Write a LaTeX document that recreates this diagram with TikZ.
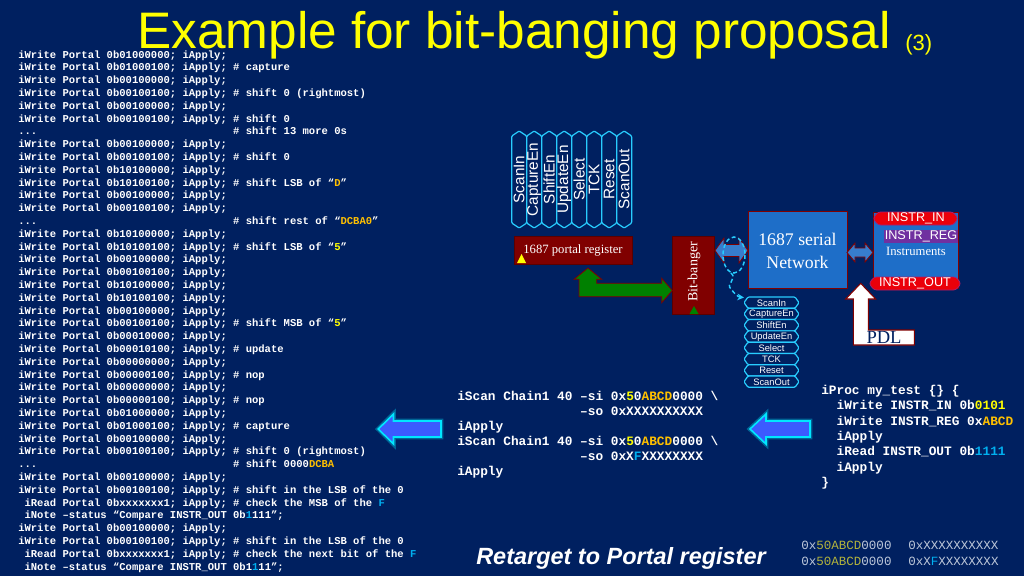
\documentclass[tikz,border=0pt]{standalone}
\usepackage{fontspec}
\setmainfont{Liberation Serif}
\newfontfamily\arial{Liberation Sans}
\newfontfamily\cour{Liberation Mono}
\usetikzlibrary{arrows.meta}
\definecolor{bg}{HTML}{002060}
\definecolor{maroon}{RGB}{128,0,0}
\definecolor{netblue}{RGB}{30,110,200}
\definecolor{dablue}{RGB}{55,125,205}
\definecolor{bred}{RGB}{235,0,10}
\definecolor{bredd}{RGB}{170,30,110}
\definecolor{purp}{RGB}{112,48,160}
\definecolor{sigc}{RGB}{40,205,255}
\definecolor{arrblue}{RGB}{60,90,255}
\definecolor{arrcyan}{RGB}{0,230,255}
\definecolor{grn}{RGB}{0,128,0}
\definecolor{ttl}{RGB}{255,255,0}
\definecolor{ylc}{RGB}{255,255,0}
\definecolor{gdc}{RGB}{255,192,0}
\definecolor{cyc}{RGB}{0,176,240}
\definecolor{smallc}{RGB}{190,200,218}
\definecolor{smyl}{RGB}{180,180,60}
\newcommand\chsp[1]{\hspace*{\dimexpr 0.6em*#1\relax}}
\newcommand\cYl[1]{\textcolor{ylc}{#1}}
\newcommand\cGd[1]{\textcolor{gdc}{#1}}
\newcommand\cCy[1]{\textcolor{cyc}{#1}}
\newcommand\wPort[1]{iWrite Portal 0b#1; iApply;}
\newcommand\tdots{.{}.{}.}
\begin{document}
\begin{tikzpicture}[x=0.75pt,y=-0.75pt,
  lcode/.style={text=white, inner sep=0, anchor=base west, font=\cour\bfseries\fontsize{7.9}{9}\selectfont},
  mcode/.style={text=white, inner sep=0, anchor=base west, font=\cour\bfseries\fontsize{9.6}{11}\selectfont},
  scode/.style={text=smallc, inner sep=0, anchor=base west, font=\cour\fontsize{9.4}{11}\selectfont},
  sig/.style={draw=sigc, line width=0.9pt, fill=bg, rounded corners=0.8pt},
  vlab/.style={text=white, inner sep=0, font=\arial\fontsize{11.5}{12}\selectfont, rotate=90},
  hlab/.style={text=white, inner sep=0, font=\arial\fontsize{7}{8}\selectfont},
  mbox/.style={fill=maroon, draw=maroon!70!black, line width=0.5pt},
  bbox/.style={fill=netblue, draw=maroon, line width=0.6pt},
  banner/.style={fill=bred, draw=bredd, line width=0.6pt, rounded corners=2pt},
  btxt/.style={text=white, inner sep=0, font=\arial\fontsize{9.5}{10}\selectfont},
  sertxt/.style={text=white, inner sep=0},
  darr/.style={fill=dablue, draw=maroon, line width=0.6pt},
  barr/.style={fill=arrblue, draw=arrcyan, line width=1.2pt},
  glow/.style={draw=arrcyan, line width=3.5pt, opacity=0.35},
  loop/.style={draw=sigc, line width=1.1pt, dash pattern=on 3pt off 2pt}]
\useasboundingbox (0,0) rectangle (1024,576);
\fill[bg] (0,0) rectangle (1024,576);

% title
\node[inner sep=0, anchor=base west, text=ttl, font=\arial\fontsize{38.5}{40}\selectfont] (title) at (137,48) {Example for bit-banging proposal};
\node[inner sep=0, anchor=base west, text=ttl, font=\arial\fontsize{16.5}{18}\selectfont] (title3) at (905,50.4) {(3)};

% left code
\foreach \t [count=\i] in {
 {\wPort{01000000}},
 {\wPort{01000100} \# capture},
 {\wPort{00100000}},
 {\wPort{00100100} \# shift 0 (rightmost)},
 {\wPort{00100000}},
 {\wPort{00100100} \# shift 0},
 {\tdots\chsp{31}\# shift 13 more 0s},
 {\wPort{00100000}},
 {\wPort{00100100} \# shift 0},
 {\wPort{10100000}},
 {\wPort{10100100} \# shift LSB of “\cGd{D}”},
 {\wPort{00100000}},
 {\wPort{00100100}},
 {\tdots\chsp{31}\# shift rest of “\cGd{DCBA0}”},
 {\wPort{10100000}},
 {\wPort{10100100} \# shift LSB of “\cYl{5}”},
 {\wPort{00100000}},
 {\wPort{00100100}},
 {\wPort{10100000}},
 {\wPort{10100100}},
 {\wPort{00100000}},
 {\wPort{00100100} \# shift MSB of “\cYl{5}”},
 {\wPort{00010000}},
 {\wPort{00010100} \# update},
 {\wPort{00000000}},
 {\wPort{00000100} \# nop},
 {\wPort{00000000}},
 {\wPort{00000100} \# nop},
 {\wPort{01000000}},
 {\wPort{01000100} \# capture},
 {\wPort{00100000}},
 {\wPort{00100100} \# shift 0 (rightmost)},
 {\tdots\chsp{31}\# shift 0000\cGd{DCBA}},
 {\wPort{00100000}},
 {\wPort{00100100} \# shift in the LSB of the 0},
 {\chsp{1}iRead Portal 0bxxxxxxx1; iApply; \# check the MSB of the \cCy{F}},
 {\chsp{1}iNote –status “Compare INSTR\_OUT 0b\cCy{1}111”;},
 {\wPort{00100000}},
 {\wPort{00100100} \# shift in the LSB of the 0},
 {\chsp{1}iRead Portal 0bxxxxxxx1; iApply; \# check the next bit of the \cCy{F}},
 {\chsp{1}iNote –status “Compare INSTR\_OUT 0b1\cCy{1}11”;}
}{\node[lcode] (L\i) at (18,{58+(\i-1)*12.8}) {\t};}

% vertical signal hexagons
\foreach \s [count=\i from 0] in {ScanIn,CaptureEn,ShiftEn,UpdateEn,Select,TCK,Reset,ScanOut}{
  \pgfmathsetmacro\xa{511.7+15*\i}
  \draw[sig] (\xa,136) -- ++(7.5,-5) -- ++(7.5,5) -- ++(0,87) -- ++(-7.5,5) -- ++(-7.5,-5) -- cycle;
  \node[vlab] (v\i) at (\xa+7.5,179.5) {\s};
}

% portal register
\draw[mbox] (514,236) rectangle (632,264);
\node[sertxt, font=\fontsize{9.5}{10}\selectfont] (portal) at (573,250) {1687 portal register};
\fill[ylc] (517,263) -- (526,263) -- (521.5,254) -- cycle;

% bit-banger
\draw[mbox] (672,236) rectangle (714,314);
\node[sertxt, rotate=90, font=\fontsize{10.5}{11}\selectfont] (bb) at (694,272) {Bit-banger};
\fill[grn] (689.5,314) -- (698.5,314) -- (694,306) -- cycle;

% green arrow
\draw[fill=grn, draw=maroon, line width=0.6pt] (588,268) -- (601.7,279.3) -- (596.7,279.3) -- (596.7,283.3) -- (661.7,283.3) -- (661.7,278.3) -- (672.3,290.5) -- (661.7,302.7) -- (661.7,296.7) -- (579,296.7) -- (579,279.3) -- (574,279.3) -- cycle;

% network
\draw[bbox] (748,211) rectangle (847,288);
\node[sertxt, align=center, font=\fontsize{13.3}{17.2}\selectfont] (net) at (797.5,251) {1687 serial\\Network};

% instruments
\draw[bbox] (873,212) rectangle (958,288);
\draw[banner] (873,218.5) -- (878,212) -- (953,212) -- (958,218.5) -- (953,225) -- (878,225) -- cycle;
\node[btxt] (iin) at (916,218.5) {INSTR\_IN};
\fill[purp] (884,230) rectangle (958,243);
\node[btxt] (ireg) at (921,236.5) {INSTR\_REG};
\node[sertxt, font=\fontsize{9.5}{10}\selectfont] (inst) at (916,251) {Instruments};
\draw[banner] (869,283.5) -- (874,277) -- (956,277) -- (961,283.5) -- (956,290) -- (874,290) -- cycle;
\node[btxt] (iout) at (915,283.5) {INSTR\_OUT};

% double arrows
\draw[darr] (715,250.5) -- (724,238) -- (724,244.5) -- (739,244.5) -- (739,238) -- (748,250.5) -- (739,263) -- (739,256.5) -- (724,256.5) -- (724,263) -- cycle;
\draw[darr] (847,252.5) -- (855,243) -- (855,248) -- (865,248) -- (865,243) -- (873,252.5) -- (865,262) -- (865,257) -- (855,257) -- (855,262) -- cycle;

% dashed loop
\draw[loop] (734,255) ellipse [x radius=11, y radius=18];
\draw[loop, -{Stealth[length=5pt,width=5pt]}] (731,273) .. controls (738,279) and (725,284) .. (731,289) .. controls (734,293) and (738,297) .. (744,297.5);

% horizontal signal list
\foreach \s [count=\i from 0] in {ScanIn,CaptureEn,ShiftEn,UpdateEn,Select,TCK,Reset,ScanOut}{
  \pgfmathsetmacro\ya{297+11.29*\i}
  \draw[sig] (744,\ya+5.645) -- (748,\ya) -- (795,\ya) -- (799,\ya+5.645) -- (795,\ya+11.29) -- (748,\ya+11.29) -- cycle;
  \node[hlab] (h\i) at (771.5,\ya+5.8) {\s};
}

% PDL arrow
\draw[fill=white, draw=maroon, line width=0.8pt] (860.7,283.3) -- (875.7,299) -- (868.3,299) -- (868.3,330) -- (914.3,330) -- (914.3,345) -- (853.3,345) -- (853.3,299) -- (845.7,299) -- cycle;
\node[inner sep=0, text=bg, font=\fontsize{13.9}{14}\selectfont] (pdl) at (884,337.5) {PDL};

% blue arrows
\foreach \tx/\hb/\ex [count=\i] in {378.3/393.5/441, 750/766/810}{
  \draw[glow] (\tx,429) -- (\hb,414) -- (\hb,421) -- (\ex,421) -- (\ex,437) -- (\hb,437) -- (\hb,444) -- cycle;
  \draw[barr] (\tx,429) -- (\hb,414) -- (\hb,421) -- (\ex,421) -- (\ex,437) -- (\hb,437) -- (\hb,444) -- cycle;
}

% middle code
\foreach \t [count=\i] in {
 {iScan Chain1 40 –si 0x\cYl{5}0\cGd{ABCD}0000 \textbackslash},
 {\chsp{16}–so 0xXXXXXXXXXX},
 {iApply},
 {iScan Chain1 40 –si 0x\cYl{5}0\cGd{ABCD}0000 \textbackslash},
 {\chsp{16}–so 0xX\cCy{F}XXXXXXXX},
 {iApply}
}{\node[mcode] (M\i) at (457,{400.5+(\i-1)*15}) {\t};}

% right code
\foreach \t [count=\i] in {
 {iProc my\_test \{\} \{},
 {\chsp{2}iWrite INSTR\_IN 0b\cYl{0101}},
 {\chsp{2}iWrite INSTR\_REG 0x\cGd{ABCD}},
 {\chsp{2}iApply},
 {\chsp{2}iRead INSTR\_OUT 0b\cCy{1111}},
 {\chsp{2}iApply},
 {\}}
}{\node[mcode] (R\i) at (821,{394.5+(\i-1)*15.3}) {\t};}

% bottom
\node[inner sep=0, anchor=base west, text=white, font=\arial\bfseries\itshape\fontsize{17.6}{19}\selectfont] (retarget) at (476,564) {Retarget to Portal register};
\node[scode] (s1) at (801,549) {0x\textcolor{smyl}{50ABCD}0000};
\node[scode] (s2) at (908,549) {0xXXXXXXXXXX};
\node[scode] (s3) at (801,565) {0x\textcolor{smyl}{50ABCD}0000};
\node[scode] (s4) at (908,565) {0xX\textcolor{cyc}{F}XXXXXXXX};
\end{tikzpicture}
\end{document}
